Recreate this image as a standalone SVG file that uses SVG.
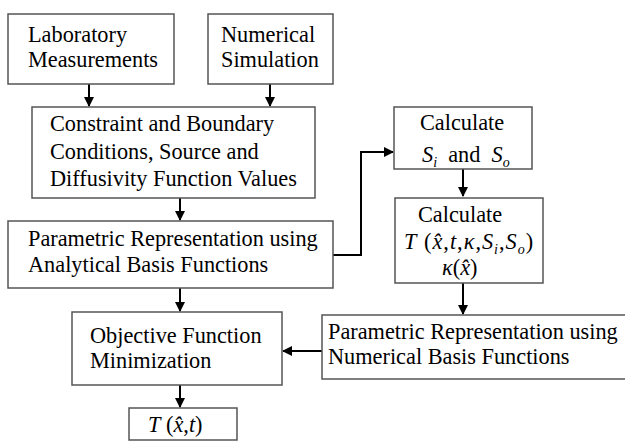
<svg xmlns="http://www.w3.org/2000/svg" width="625" height="442" viewBox="0 0 625 442">
<defs>
<marker id="ah" markerWidth="10" markerHeight="10" refX="9" refY="5" orient="auto" markerUnits="userSpaceOnUse">
<path d="M0,0 L10,5 L0,10 z" fill="#000"/>
</marker>
<style>
.box{fill:#fff;stroke:#555;stroke-width:1.5}
.t{font-family:'Liberation Serif','Times New Roman',serif;font-size:22.3px;fill:#000}
.i{font-style:italic}
.s{font-style:italic;font-size:14px}
.c{fill:none;stroke:#000;stroke-width:2}
</style>
</defs>
<rect width="625" height="442" fill="#fff"/>
<g id="connectors">
<line class="c" x1="89" y1="84" x2="89" y2="106" marker-end="url(#ah)"/>
<line class="c" x1="270" y1="84" x2="270" y2="106" marker-end="url(#ah)"/>
<line class="c" x1="180" y1="198" x2="180" y2="220" marker-end="url(#ah)"/>
<line class="c" x1="180" y1="288" x2="180" y2="311" marker-end="url(#ah)"/>
<line class="c" x1="180" y1="385" x2="180" y2="407" marker-end="url(#ah)"/>
<polyline class="c" points="333,255 361,255 361,152 393,152" marker-end="url(#ah)"/>
<line class="c" x1="463" y1="169" x2="463" y2="196" marker-end="url(#ah)"/>
<line class="c" x1="463" y1="283" x2="463" y2="314" marker-end="url(#ah)"/>
<line class="c" x1="322" y1="351" x2="283" y2="351" marker-end="url(#ah)"/>
</g>
<g id="lab">
<rect class="box" x="8" y="14" width="166" height="70"/>
<text class="t" x="28" y="42">Laboratory</text>
<text class="t" x="28" y="67">Measurements</text>
</g>
<g id="sim">
<rect class="box" x="208" y="14" width="125" height="70"/>
<text class="t" x="221" y="42">Numerical</text>
<text class="t" x="221" y="67">Simulation</text>
</g>
<g id="constraint">
<rect class="box" x="32" y="107" width="283" height="91"/>
<text class="t" x="50" y="131">Constraint and Boundary</text>
<text class="t" x="50" y="159">Conditions, Source and</text>
<text class="t" x="50" y="186">Diffusivity Function Values</text>
</g>
<g id="analytical">
<rect class="box" x="8" y="221" width="325" height="67"/>
<text class="t" x="28" y="246">Parametric Representation using</text>
<text class="t" x="28" y="272">Analytical Basis Functions</text>
</g>
<g id="objective">
<rect class="box" x="72" y="312" width="210" height="73"/>
<text class="t" x="90" y="343">Objective Function</text>
<text class="t" x="90" y="368">Minimization</text>
</g>
<g id="result">
<rect class="box" x="129" y="408" width="108" height="32"/>
<text class="t" x="148" y="432"><tspan class="i">T</tspan> (<tspan class="i">x̂</tspan>,<tspan class="i">t</tspan>)</text>
</g>
<g id="calcS">
<rect class="box" x="394" y="107" width="138" height="62"/>
<text class="t" x="420" y="130">Calculate</text>
<text class="t" x="422" y="162"><tspan class="i">S</tspan><tspan class="s" dy="5">i</tspan><tspan dy="-5" xml:space="preserve">  and  </tspan><tspan class="i">S</tspan><tspan class="s" dy="5">o</tspan></text>
</g>
<g id="calcT">
<rect class="box" x="395" y="198" width="148" height="85"/>
<text class="t" x="418" y="222">Calculate</text>
<text class="t" x="404" y="249" letter-spacing="1"><tspan class="i">T</tspan> (<tspan class="i">x̂</tspan>,<tspan class="i">t</tspan>,<tspan class="i">κ</tspan>,<tspan class="i">S</tspan><tspan class="s" dy="5">i</tspan><tspan dy="-5">,</tspan><tspan class="i">S</tspan><tspan class="s" dy="5">o</tspan><tspan dy="-5">)</tspan></text>
<text class="t" x="442" y="275"><tspan class="i">κ</tspan>(<tspan class="i">x̂</tspan>)</text>
</g>
<g id="numerical">
<rect class="box" x="322" y="315" width="304" height="64"/>
<text class="t" x="328" y="339">Parametric Representation using</text>
<text class="t" x="328" y="364">Numerical Basis Functions</text>
</g>
</svg>
